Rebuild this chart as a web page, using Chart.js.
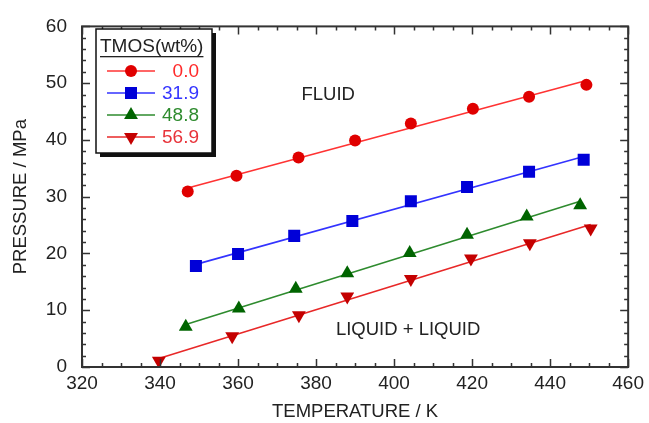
<!DOCTYPE html>
<html>
<head>
<meta charset="utf-8">
<script src="https://cdn.jsdelivr.net/npm/chart.js@4.4.0/dist/chart.umd.min.js"></script>
<style>
  html, body { margin: 0; padding: 0; background: #fff; }
</style>
</head>
<body>
<canvas id="chart" width="649" height="423"></canvas>
<script>
// data
const seriesNames = ["0.0", "31.9", "48.8", "56.9"];

const temp00 = [347.1, 359.6, 375.5, 390.0, 404.3, 420.2, 434.6, 449.3];
const pres00 = [30.9, 33.7, 36.9, 39.9, 42.9, 45.5, 47.6, 49.7];

const temp319 = [349.2, 360.0, 374.4, 389.3, 404.3, 418.7, 434.6, 448.6];
const pres319 = [17.8, 19.9, 23.1, 25.7, 29.2, 31.7, 34.4, 36.5];

const temp488 = [346.6, 360.2, 374.8, 388.0, 404.0, 418.7, 434.0, 447.7];
const pres488 = [7.1, 10.3, 13.8, 16.5, 20.1, 23.3, 26.5, 28.5];

const temp569 = [339.7, 358.5, 375.6, 388.0, 404.3, 419.7, 434.8, 450.4];
const pres569 = [1.1, 5.4, 9.1, 12.4, 15.5, 19.1, 21.8, 24.4];

const xTickLabels = [320, 340, 360, 380, 400, 420, 440, 460];
const yTickLabels = [0, 10, 20, 30, 40, 50, 60];

const temps = [temp00, temp319, temp488, temp569];
const press = [pres00, pres319, pres488, pres569];

// look
const markerColors = ["#e00000", "#0000d8", "#006400", "#c40000"];
const lineColors = ["#ff3333", "#3333ff", "#2e8b2e", "#e82828"];
const textColors = ["#ff2a2a", "#3535ff", "#2e8b2e", "#e8333a"];
const markerStyles = ["circle", "rect", "triangle", "triangle"];
const markerRot = [0, 0, 0, 180];
const markerRad = [6, 8.5, 8, 8];

const FONT = "'Liberation Sans', Arial, sans-serif";

// least squares straight line through each series
function fitLine(xs, ys) {
  const n = xs.length;
  const mx = xs.reduce((a, b) => a + b, 0) / n;
  const my = ys.reduce((a, b) => a + b, 0) / n;
  let sxy = 0, sxx = 0;
  for (let i = 0; i < n; i++) {
    sxy += (xs[i] - mx) * (ys[i] - my);
    sxx += (xs[i] - mx) * (xs[i] - mx);
  }
  const b = sxy / sxx, a = my - b * mx;
  const x0 = Math.min(...xs), x1 = Math.max(...xs);
  return [{ x: x0, y: a + b * x0 }, { x: x1, y: a + b * x1 }];
}

const datasets = [];
seriesNames.forEach((name, i) => {
  datasets.push({
    label: name,
    data: temps[i].map((t, k) => ({ x: t, y: press[i][k] })),
    pointStyle: markerStyles[i],
    rotation: markerRot[i],
    pointRadius: markerRad[i],
    pointBackgroundColor: markerColors[i],
    pointBorderColor: markerColors[i],
    pointBorderWidth: 0,
    showLine: false,
    order: 0
  });
});
seriesNames.forEach((name, i) => {
  datasets.push({
    label: name + " fit",
    data: fitLine(temps[i], press[i]),
    showLine: true,
    borderColor: lineColors[i],
    borderWidth: 1.6,
    pointRadius: 0,
    order: 1
  });
});

function drawMarker(ctx, style, x, y, r, rot, color) {
  ctx.save();
  ctx.fillStyle = color;
  ctx.translate(x, y);
  ctx.rotate(rot * Math.PI / 180);
  ctx.beginPath();
  if (style === "circle") {
    ctx.arc(0, 0, r, 0, Math.PI * 2);
  } else if (style === "rect") {
    const s = Math.SQRT1_2 * r;
    ctx.rect(-s, -s, 2 * s, 2 * s);
  } else {
    const edge = 3 * r / Math.sqrt(3);
    const h = edge * Math.sqrt(3) / 2;
    ctx.moveTo(-edge / 2, h / 3);
    ctx.lineTo(edge / 2, h / 3);
    ctx.lineTo(0, -2 * h / 3);
    ctx.closePath();
  }
  ctx.fill();
  ctx.restore();
}

const decorPlugin = {
  id: "decor",
  afterDraw(chart) {
    const ctx = chart.ctx;
    const xs = chart.scales.x, ys = chart.scales.y;
    const L = xs.left, R = xs.right, T = ys.top, B = ys.bottom;
    ctx.save();

    // frame
    ctx.strokeStyle = "#333";
    ctx.lineWidth = 2;
    ctx.strokeRect(L, T, R - L, B - T);

    // inward ticks on all four sides
    ctx.lineWidth = 1.5;
    ctx.beginPath();
    for (let v = xTickLabels[0]; v <= xTickLabels[xTickLabels.length - 1]; v += 5) {
      const px = Math.round(xs.getPixelForValue(v)) + 0.5;
      const len = v % 20 === 0 ? 8 : 4;
      ctx.moveTo(px, B); ctx.lineTo(px, B - len);
      ctx.moveTo(px, T); ctx.lineTo(px, T + len);
    }
    for (let v = yTickLabels[0]; v <= yTickLabels[yTickLabels.length - 1]; v += 2) {
      const py = Math.round(ys.getPixelForValue(v)) + 0.5;
      const len = v % 10 === 0 ? 8 : 4;
      ctx.moveTo(L, py); ctx.lineTo(L + len, py);
      ctx.moveTo(R, py); ctx.lineTo(R - len, py);
    }
    ctx.stroke();

    // region labels
    ctx.fillStyle = "#222";
    ctx.font = "18.5px " + FONT;
    ctx.textAlign = "center";
    ctx.textBaseline = "middle";
    ctx.fillText("FLUID", xs.getPixelForValue(383.1), ys.getPixelForValue(47.9));
    ctx.fillText("LIQUID + LIQUID", xs.getPixelForValue(403.6), ys.getPixelForValue(6.5));

    // legend box with shadow
    const bx = 96, by = 29, bw = 116, bh = 124;
    ctx.fillStyle = "#111";
    ctx.fillRect(bx + 4, by + 4, bw, bh);
    ctx.fillStyle = "#fff";
    ctx.fillRect(bx, by, bw, bh);
    ctx.strokeStyle = "#111";
    ctx.lineWidth = 1.5;
    ctx.strokeRect(bx, by, bw, bh);

    ctx.fillStyle = "#222";
    ctx.font = "19px " + FONT;
    ctx.textAlign = "left";
    ctx.fillText("TMOS(wt%)", bx + 4, by + 18);
    const tw = ctx.measureText("TMOS(wt%)").width;
    ctx.fillRect(bx + 4, by + 27, tw, 1.3);

    seriesNames.forEach((name, i) => {
      const ry = by + 42 + i * 22;
      ctx.strokeStyle = lineColors[i];
      ctx.lineWidth = 1.6;
      ctx.beginPath();
      ctx.moveTo(bx + 11, ry); ctx.lineTo(bx + 59, ry);
      ctx.stroke();
      drawMarker(ctx, markerStyles[i], bx + 35, ry, markerRad[i], markerRot[i], markerColors[i]);
      ctx.fillStyle = textColors[i];
      ctx.textAlign = "right";
      ctx.fillText(name, bx + 103, ry + 1);
    });

    ctx.restore();
  }
};

new Chart(document.getElementById("chart"), {
  type: "scatter",
  data: { datasets: datasets },
  options: {
    responsive: false,
    animation: false,
    layout: { padding: { left: 0, right: 17, top: 24, bottom: 0 } },
    plugins: { legend: { display: false }, tooltip: { enabled: false } },
    scales: {
      x: {
        type: "linear",
        min: xTickLabels[0],
        max: xTickLabels[xTickLabels.length - 1],
        ticks: {
          stepSize: xTickLabels[1] - xTickLabels[0],
          color: "#222",
          font: { family: FONT, size: 19 },
          padding: 5,
          maxRotation: 0
        },
        grid: { display: false, drawTicks: false },
        border: { display: false },
        title: {
          display: true,
          text: "TEMPERATURE / K",
          color: "#222",
          font: { family: FONT, size: 18.5 },
          padding: { top: 0, bottom: 0 }
        },
        afterFit(scale) { scale.height = 56; }
      },
      y: {
        type: "linear",
        min: yTickLabels[0],
        max: yTickLabels[yTickLabels.length - 1],
        ticks: {
          stepSize: yTickLabels[1] - yTickLabels[0],
          color: "#222",
          font: { family: FONT, size: 19 },
          padding: 15
        },
        grid: { display: false, drawTicks: false },
        border: { display: false },
        title: {
          display: true,
          text: "PRESSURE / MPa",
          color: "#222",
          font: { family: FONT, size: 18.5 },
          padding: { top: 10, bottom: 0 }
        },
        afterFit(scale) { scale.width = 82; }
      }
    }
  },
  plugins: [decorPlugin]
});
</script>
</body>
</html>
